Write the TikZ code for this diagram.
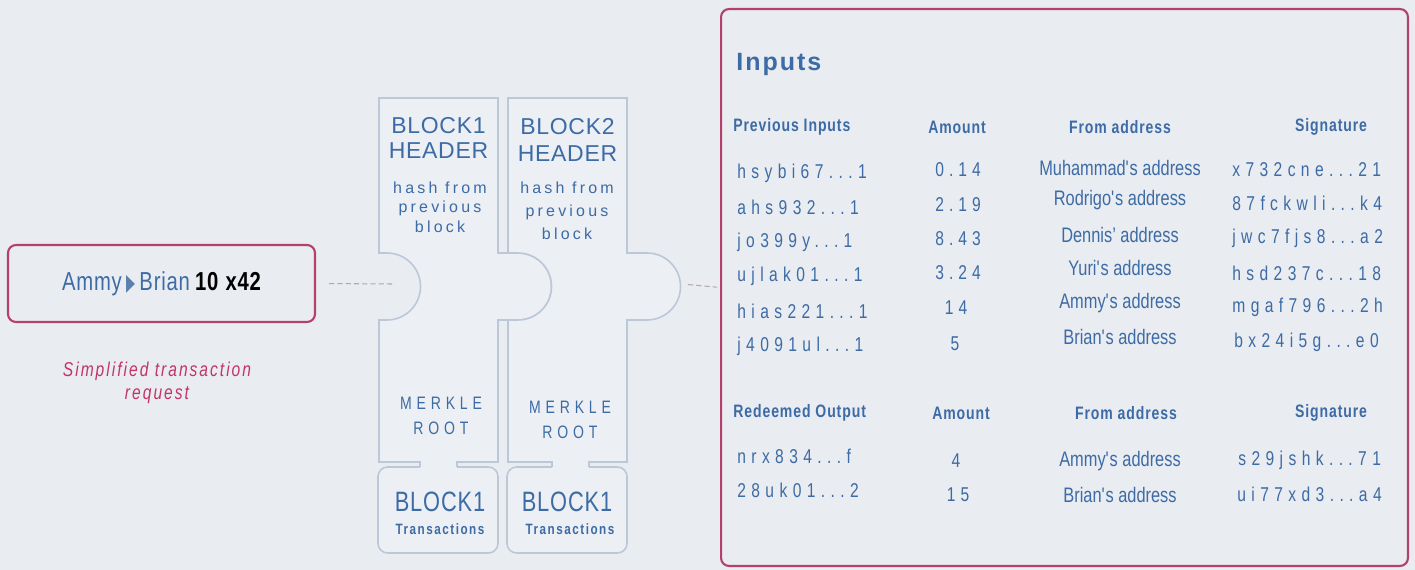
\documentclass[tikz,border=0pt]{standalone}
\usepackage{fontspec}
\setmainfont{Liberation Sans}
\newfontfamily\narrowfont[FakeStretch=0.78]{Liberation Sans}
\newfontfamily\symbolfont{DejaVu Sans}

% sizes are given in picture pixels (1px = 0.02cm)
\newcommand{\pxsize}[2][1.2]{\fontsize{\fpeval{0.569*#2}pt}{\fpeval{0.569*#1*#2}pt}\selectfont}

\definecolor{bgcolor}{HTML}{E9ECF1}
\definecolor{inkblue}{HTML}{3D6BA5}
\definecolor{triblue}{HTML}{5B7FAF}
\definecolor{crimson}{HTML}{B3416B}
\definecolor{roseink}{HTML}{C23564}
\definecolor{pieceline}{HTML}{BCC7D8}
\definecolor{piecefill}{HTML}{ECEFF4}
\definecolor{dashgray}{HTML}{B4A7AE}

\tikzstyle{reqbox} = [rectangle, rounded corners=4.5pt, draw=crimson, line width=1.2pt, minimum width=6.14cm, minimum height=1.54cm, text=inkblue, font={\narrowfont\pxsize{26}\addfontfeatures{LetterSpace=3}}]
\tikzstyle{panel} = [rectangle, rounded corners=4.5pt, draw=crimson, line width=1.2pt, minimum width=13.74cm, minimum height=11.14cm]
\tikzstyle{notetext} = [text=roseink, align=center, inner sep=0pt, font={\narrowfont\itshape\pxsize[1.15]{20}\addfontfeatures{LetterSpace=10}}]
\tikzstyle{piece} = [draw=pieceline, line width=0.9pt, fill=piecefill]
\tikzstyle{headtext} = [text=inkblue, align=center, inner sep=0pt, font={\pxsize[1.06]{23}\addfontfeatures{LetterSpace=3}}]
\tikzstyle{hashtext} = [text=inkblue, align=center, inner sep=0pt, font={\pxsize[1.22]{16}\addfontfeatures{LetterSpace=20}}]
\tikzstyle{merkletext} = [text=inkblue, align=center, inner sep=0pt, font={\narrowfont\pxsize[1.39]{18}\addfontfeatures{LetterSpace=27}}]
\tikzstyle{txname} = [text=inkblue, inner sep=0pt, font={\narrowfont\pxsize{28}\addfontfeatures{LetterSpace=3}}]
\tikzstyle{txlabel} = [text=inkblue, inner sep=0pt, font={\narrowfont\bfseries\pxsize{15}\addfontfeatures{LetterSpace=10}}]
\tikzstyle{paneltitle} = [text=inkblue, anchor=west, inner sep=0pt, font={\bfseries\pxsize{25}\addfontfeatures{LetterSpace=8}}]
\tikzstyle{colhead} = [text=inkblue, inner sep=0pt, font={\narrowfont\bfseries\pxsize{18}\addfontfeatures{LetterSpace=5}}]
\tikzstyle{idtext} = [text=inkblue, anchor=west, inner sep=0pt, font={\narrowfont\pxsize{20}\addfontfeatures{LetterSpace=27}}]
\tikzstyle{amounttext} = [text=inkblue, inner sep=0pt, font={\narrowfont\pxsize{20}\addfontfeatures{LetterSpace=25}}]
\tikzstyle{addrtext} = [text=inkblue, inner sep=0pt, font={\narrowfont\pxsize{21}}]
\tikzstyle{sigtext} = [text=inkblue, anchor=west, inner sep=0pt, font={\narrowfont\pxsize{20}\addfontfeatures{LetterSpace=27}}]
\tikzstyle{link} = [draw=dashgray, line width=0.6pt, dash pattern=on 3pt off 1.7pt]

\begin{document}
\begin{tikzpicture}[x=0.02cm, y=-0.02cm]

% Canvas
\fill [bgcolor] (0,0) rectangle (1415,570);
\useasboundingbox (0,0) rectangle (1415,570);

% Transaction request
\node (request) [reqbox] at (161.5,283.5) {Ammy\,{\color{triblue}\scalebox{0.45}[0.9]{\symbolfont ▶}}\,Brian\hspace{3pt}{\color{black}\bfseries 10\hspace{4pt}x42}};
\node (note) [notetext] at (157,382.5) {Simplified transaction\\request};

% Block headers as puzzle pieces
\draw [piece] (420,467) -- (420,462) -- (379,462) -- (379,320) -- (387,320) arc (90:-90:33.5) -- (379,253) -- (379,98) -- (498,98) -- (498,253) -- (518,253) arc (-90:90:33.5) -- (498,320) -- (498,462) -- (457,462) -- (457,467);
\draw [piece] (552,467) -- (552,462) -- (508,462) -- (508,320) -- (518,320) arc (90:-90:33.5) -- (508,253) -- (508,98) -- (627,98) -- (627,253) -- (647,253) arc (-90:90:33.5) -- (627,320) -- (627,462) -- (589,462) -- (589,467);

% Transaction pieces below the headers
\draw [piece, rounded corners=5.5pt] (420,467) -| (378,553) -| (498,467) -- (457,467);
\draw [piece, rounded corners=5.5pt] (552,467) -| (507,553) -| (627,467) -- (589,467);

% Block 1 texts
\node (head1) [headtext] at (438.5,138) {BLOCK1\\HEADER};
\node (hash1) [hashtext] at (440,207) {hash from\\previous\\block};
\node (merkle1) [merkletext] at (441,415.5) {MERKLE\\ROOT};
\node (tx1name) [txname] at (440,502) {BLOCK1};
\node (tx1label) [txlabel] at (440,529) {Transactions};

% Block 2 texts
\node (head2) [headtext] at (567.5,140) {BLOCK2\\[2pt]HEADER};
\node (hash2) [hashtext] at (567,210.5) {hash from\\[2pt]previous\\[2pt]block};
\node (merkle2) [merkletext] at (570,419.5) {MERKLE\\ROOT};
\node (tx2name) [txname] at (567,502) {BLOCK1};
\node (tx2label) [txlabel] at (570,529) {Transactions};

% Inputs panel
\node (panel) [panel] at (1064.5,287.5) {};
\node (inputs) [paneltitle] at (736,65) {Inputs};

% Previous inputs table
\node (prevhead) [colhead, anchor=west] at (733,127) {Previous Inputs};
\node (amounthead) [colhead] at (957,127) {Amount};
\node (fromhead) [colhead] at (1120,127) {From address};
\node (sighead) [colhead] at (1331,127) {Signature};

\node (prev1) [idtext] at (737,173) {hsybi67...1};
\node (prev2) [idtext] at (737,207) {ahs932...1};
\node (prev3) [idtext] at (737,242) {jo399y...1};
\node (prev4) [idtext] at (737,276) {ujlak01...1};
\node (prev5) [idtext] at (737,311) {hias221...1};
\node (prev6) [idtext] at (737,346) {j4091ul...1};

\node (amount1) [amounttext] at (958,170) {0.14};
\node (amount2) [amounttext] at (958,205) {2.19};
\node (amount3) [amounttext] at (958,239) {8.43};
\node (amount4) [amounttext] at (958,273) {3.24};
\node (amount5) [amounttext] at (956,308) {14};
\node (amount6) [amounttext] at (955,344) {5};

\node (from1) [addrtext] at (1120,168) {Muhammad\textquotesingle s address};
\node (from2) [addrtext] at (1120,200) {Rodrigo\textquotesingle s address};
\node (from3) [addrtext] at (1120,235) {Dennis’ address};
\node (from4) [addrtext] at (1120,268) {Yuri\textquotesingle s address};
\node (from5) [addrtext] at (1120,303) {Ammy\textquotesingle s address};
\node (from6) [addrtext] at (1120,337) {Brian\textquotesingle s address};

\node (sig1) [sigtext] at (1232,170) {x732cne...21};
\node (sig2) [sigtext] at (1232,203) {87fckwli...k4};
\node (sig3) [sigtext] at (1232,238) {jwc7fjs8...a2};
\node (sig4) [sigtext] at (1232,273) {hsd237c...18};
\node (sig5) [sigtext] at (1232,307) {mgaf796...2h};
\node (sig6) [sigtext] at (1234,342) {bx24i5g...e0};

% Redeemed output table
\node (redhead) [colhead, anchor=west] at (733,413) {Redeemed Output};
\node (redamounthead) [colhead] at (961,413) {Amount};
\node (redfromhead) [colhead] at (1126,413) {From address};
\node (redsighead) [colhead] at (1331,413) {Signature};

\node (red1) [idtext] at (737,456) {nrx834...f};
\node (red2) [idtext] at (737,490) {28uk01...2};
\node (redamount1) [amounttext] at (956,461) {4};
\node (redamount2) [amounttext] at (958,495) {15};
\node (redfrom1) [addrtext] at (1120,461) {Ammy\textquotesingle s address};
\node (redfrom2) [addrtext] at (1120,495) {Brian\textquotesingle s address};
\node (redsig1) [sigtext] at (1238,460) {s29jshk...71};
\node (redsig2) [sigtext] at (1237,494) {ui77xd3...a4};

% Dashed links into the chain
\coordinate (socket1) at (393,284);
\coordinate (knob2) at (682,284);
\draw [link, shorten <=7.4pt] (request.east) -- (socket1);
\draw [link, shorten <=3.4pt, shorten >=1.7pt] (knob2) -- (panel.west);

\end{tikzpicture}
\end{document}
